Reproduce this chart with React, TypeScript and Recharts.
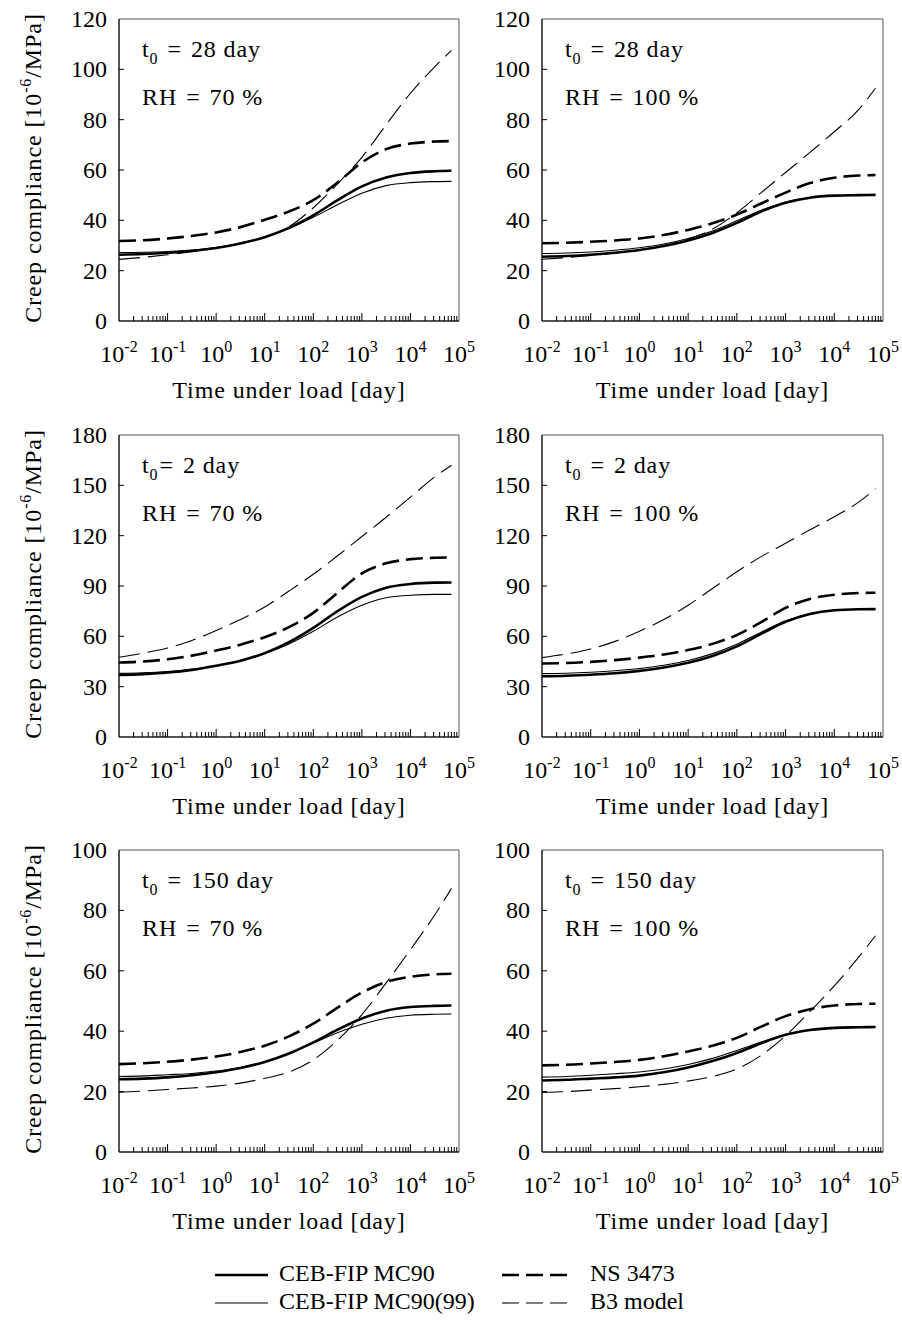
import React from 'react';
import { LineChart, Line, XAxis, YAxis, ReferenceArea } from 'recharts';

const FONT = 'Liberation Serif, DejaVu Serif, Noto Serif, Times, serif';

// time under load [day]
const times = [0.01, 0.0316, 0.1, 0.316, 1, 3.16, 10, 31.6, 100, 316, 1000, 3162, 10000, 31623, 70000];

// t0 = 28 day, RH = 70 %
const mc90_28_70 = [26.3, 26.6, 27.1, 27.8, 29, 30.8, 33.3, 37, 42, 48, 53.5, 57, 58.8, 59.5, 59.7];
const mc99_28_70 = [27.2, 27.3, 27.6, 28.2, 29.2, 30.9, 33.3, 36.8, 41.2, 46.2, 50.8, 53.8, 55, 55.4, 55.5];
const ns_28_70 = [31.8, 32.1, 32.8, 33.8, 35.2, 37.3, 40.2, 43.5, 48, 55, 63, 68.3, 70.5, 71.3, 71.5];
const b3_28_70 = [24.5, 25.3, 26.3, 27.5, 29, 31, 33.5, 37.5, 45, 54.5, 65, 78, 90.5, 101, 107.5];

// t0 = 28 day, RH = 100 %
const mc90_28_100 = [25.5, 25.8, 26.3, 27.1, 28.2, 29.8, 32, 35, 39, 43.5, 47, 49, 49.8, 50, 50.1];
const mc99_28_100 = [26.8, 27, 27.4, 28.1, 29.1, 30.6, 32.8, 35.8, 39.8, 44, 47.3, 49.1, 49.8, 50, 50.1];
const ns_28_100 = [30.9, 31.1, 31.5, 32, 32.8, 34.2, 36.2, 38.8, 42.3, 46.7, 51, 54.8, 56.9, 57.8, 58];
const b3_28_100 = [24.5, 25.2, 26, 27, 28.3, 30, 32.5, 36.5, 43, 51, 59, 67, 75.2, 84, 92.5];

// t0 = 2 day, RH = 70 %
const mc90_2_70 = [37, 37.5, 38.4, 40, 42.5, 45.5, 50, 56.5, 65, 75, 83.5, 89, 91.2, 92, 92.1];
const mc99_2_70 = [38, 38.3, 39, 40.3, 42.5, 45.3, 49.7, 55.5, 63, 71.5, 78.5, 83, 84.5, 85, 85];
const ns_2_70 = [44.4, 45, 46.3, 48.5, 51.5, 55, 59.5, 65.5, 74, 86, 97.5, 103.5, 106, 106.8, 107];
const b3_2_70 = [47.5, 50, 53, 57.5, 63.5, 70, 77.5, 87, 97, 108, 119.5, 131, 143, 155, 162];

// t0 = 2 day, RH = 100 %
const mc90_2_100 = [36.2, 36.5, 37.1, 38, 39.4, 41.4, 44.2, 48.3, 54, 61.5, 68.6, 73.3, 75.5, 76.1, 76.2];
const mc99_2_100 = [37.8, 38, 38.6, 39.5, 40.8, 42.8, 45.6, 49.7, 55.3, 62.5, 69.3, 73.5, 75.5, 76.1, 76.2];
const ns_2_100 = [43.8, 44.1, 44.8, 45.8, 47.3, 49.2, 51.8, 55.5, 60.8, 68.5, 77, 82.3, 84.8, 85.8, 86];
const b3_2_100 = [47.3, 49.5, 52.5, 57, 63, 70, 78.5, 88.5, 98.5, 107.5, 115.5, 123.5, 131.3, 140, 148];

// t0 = 150 day, RH = 70 %
const mc90_150_70 = [24.1, 24.3, 24.7, 25.4, 26.4, 27.8, 29.8, 32.6, 36.3, 40.5, 44.2, 46.8, 48, 48.4, 48.5];
const mc99_150_70 = [25, 25.2, 25.6, 26, 26.8, 28, 29.9, 32.6, 36.1, 39.5, 42.3, 44.3, 45.3, 45.6, 45.7];
const ns_150_70 = [29.1, 29.4, 29.9, 30.6, 31.6, 33.1, 35.2, 38.3, 42.5, 47.8, 52.8, 56.3, 58, 58.8, 59];
const b3_150_70 = [19.8, 20.2, 20.7, 21.2, 21.8, 22.8, 24.4, 26.5, 30.5, 37, 45.5, 56, 67, 78.5, 87.3];

// t0 = 150 day, RH = 100 %
const mc90_150_100 = [23.7, 23.9, 24.3, 24.7, 25.3, 26.4, 28, 30.1, 32.8, 36, 38.8, 40.4, 41.1, 41.3, 41.4];
const mc99_150_100 = [24.8, 25, 25.4, 25.9, 26.5, 27.5, 29, 31, 33.6, 36.4, 38.9, 40.4, 41.1, 41.3, 41.4];
const ns_150_100 = [28.7, 28.9, 29.3, 29.8, 30.5, 31.7, 33.3, 35.2, 37.8, 41.5, 45, 47.3, 48.5, 49, 49.1];
const b3_150_100 = [19.7, 20, 20.5, 21, 21.6, 22.4, 23.5, 25, 27.5, 32, 38.5, 46.5, 55, 64.5, 71.6];

// axis ticks
const yTicks120 = [0, 20, 40, 60, 80, 100, 120];
const yTicks180 = [0, 30, 60, 90, 120, 150, 180];
const yTicks100 = [0, 20, 40, 60, 80, 100];
const xDecades = [-2, -1, 0, 1, 2, 3, 4, 5];
const xMinorMult = [2, 3, 4, 5, 6, 7, 8, 9];

const xTicks: number[] = [];
xDecades.forEach((k) => {
  xTicks.push(Math.pow(10, k));
  if (k < 5) xMinorMult.forEach((m) => xTicks.push(m * Math.pow(10, k)));
});

const legendItems = [
  { name: 'CEB-FIP MC90', width: 2.6, dash: undefined },
  { name: 'CEB-FIP MC90(99)', width: 1.1, dash: undefined },
  { name: 'NS 3473', width: 2.6, dash: '17 7' },
  { name: 'B3 model', width: 1.1, dash: '17 7' },
];

type Panel = {
  t0: string;
  eqGap: boolean;
  rh: string;
  yMax: number;
  yTicks: number[];
  mc90: number[];
  mc99: number[];
  ns: number[];
  b3: number[];
  row: number;
  col: number;
};

const panels: Panel[] = [
  { t0: '28', eqGap: true, rh: '70', yMax: 120, yTicks: yTicks120, mc90: mc90_28_70, mc99: mc99_28_70, ns: ns_28_70, b3: b3_28_70, row: 0, col: 0 },
  { t0: '28', eqGap: true, rh: '100', yMax: 120, yTicks: yTicks120, mc90: mc90_28_100, mc99: mc99_28_100, ns: ns_28_100, b3: b3_28_100, row: 0, col: 1 },
  { t0: '2', eqGap: false, rh: '70', yMax: 180, yTicks: yTicks180, mc90: mc90_2_70, mc99: mc99_2_70, ns: ns_2_70, b3: b3_2_70, row: 1, col: 0 },
  { t0: '2', eqGap: true, rh: '100', yMax: 180, yTicks: yTicks180, mc90: mc90_2_100, mc99: mc99_2_100, ns: ns_2_100, b3: b3_2_100, row: 1, col: 1 },
  { t0: '150', eqGap: true, rh: '70', yMax: 100, yTicks: yTicks100, mc90: mc90_150_70, mc99: mc99_150_70, ns: ns_150_70, b3: b3_150_70, row: 2, col: 0 },
  { t0: '150', eqGap: true, rh: '100', yMax: 100, yTicks: yTicks100, mc90: mc90_150_100, mc99: mc99_150_100, ns: ns_150_100, b3: b3_150_100, row: 2, col: 1 },
];

const txt = { fontFamily: FONT, fontSize: 24, fill: '#000' } as React.CSSProperties;
const title = { ...txt, letterSpacing: 0.9 } as React.CSSProperties;

const XTick = (props: any) => {
  const { x, y, payload } = props;
  const v = payload.value as number;
  const lg = Math.log10(v);
  const major = Math.abs(lg - Math.round(lg)) < 1e-6;
  const len = major ? 8 : 5;
  const edge = v < 0.0100001 || v > 99999;
  return (
    <g>
      {!edge && <line x1={x} x2={x} y1={y} y2={y - len} stroke="#000" strokeWidth={1} />}
      {major && (
        <text x={x} y={y + 41} textAnchor="middle" style={txt}>
          <tspan>10</tspan>
          <tspan dy={-10} style={{ fontSize: 16 }}>{String(Math.round(lg))}</tspan>
        </text>
      )}
    </g>
  );
};

const makeYTick = (yMax: number) => (props: any) => {
  const { x, y, payload } = props;
  const v = payload.value as number;
  return (
    <g>
      {v > 0 && v < yMax && <line x1={x} x2={x + 5} y1={y} y2={y} stroke="#000" strokeWidth={1} />}
      <text x={x - 12} y={y + 8} textAnchor="end" style={txt}>
        {v}
      </text>
    </g>
  );
};

const ChartPanel = ({ p }: { p: Panel }) => {
  const left = p.col === 0 ? 0 : 460;
  const width = p.col === 0 ? 500 : 442;
  const yAxisWidth = p.col === 0 ? 119 : 82;
  const marginRight = p.col === 0 ? 41 : 19;
  const top = p.row * 415;
  const marginTop = p.row === 0 ? 19 : 20;
  const xAxisHeight = p.row === 0 ? 94 : 93;
  const data = times.map((t, i) => ({ t, mc90: p.mc90[i], mc99: p.mc99[i], ns: p.ns[i], b3: p.b3[i] }));

  const yLabel = (lp: any) => {
    const vb = lp.viewBox || {};
    const px = vb.x + vb.width;
    const py = vb.y;
    const cx = vb.x + 41;
    const cy = vb.y + vb.height / 2 - 2;
    return (
      <g>
        {p.col === 0 && (
          <text x={cx} y={cy} transform={`rotate(-90 ${cx} ${cy})`} textAnchor="middle" style={title}>
            <tspan>Creep compliance [10</tspan>
            <tspan dy={-10} style={{ fontSize: 16 }}>-6</tspan>
            <tspan dy={10}>/MPa]</tspan>
          </text>
        )}
        <text x={px + 23} y={py + 38} style={title}>
          <tspan>t</tspan>
          <tspan dy={7} style={{ fontSize: 16 }}>0</tspan>
          <tspan dy={-7} dx={p.eqGap ? 9 : 1}>=</tspan>
          <tspan dx={9}>{`${p.t0} day`}</tspan>
        </text>
        <text x={px + 23} y={py + 86} style={title}>
          <tspan>RH</tspan>
          <tspan dx={9}>=</tspan>
          <tspan dx={9}>{`${p.rh} %`}</tspan>
        </text>
      </g>
    );
  };

  const xLabel = (lp: any) => {
    const vb = lp.viewBox || {};
    return (
      <text x={vb.x + vb.width / 2} y={vb.y + 77} textAnchor="middle" style={title}>
        Time under load [day]
      </text>
    );
  };

  return (
    <div style={{ position: 'absolute', left, top, width, height: 415 }}>
      <LineChart width={width} height={415} data={data} margin={{ top: marginTop, right: marginRight, bottom: 0, left: 0 }}>
        <ReferenceArea x1={0.01} x2={100000} y1={0} y2={p.yMax} fill="none" fillOpacity={0} stroke="#555" strokeWidth={1} ifOverflow="visible" />
        <XAxis
          dataKey="t"
          type="number"
          scale="log"
          domain={[0.01, 100000]}
          ticks={xTicks}
          interval={0}
          allowDataOverflow
          height={xAxisHeight}
          tickSize={0}
          tickMargin={0}
          tickLine={false}
          axisLine={{ stroke: '#000', strokeWidth: 1 }}
          tick={(tp: any) => <XTick {...tp} />}
          label={xLabel}
        />
        <YAxis
          type="number"
          domain={[0, p.yMax]}
          ticks={p.yTicks}
          interval={0}
          width={yAxisWidth}
          tickSize={0}
          tickMargin={0}
          tickLine={false}
          axisLine={{ stroke: '#000', strokeWidth: 1 }}
          tick={makeYTick(p.yMax)}
          label={yLabel}
        />
        <Line type="monotone" dataKey="b3" stroke="#000" strokeWidth={1.1} strokeDasharray="21 8" dot={false} isAnimationActive={false} />
        <Line type="monotone" dataKey="ns" stroke="#000" strokeWidth={2.6} strokeDasharray="17 7" dot={false} isAnimationActive={false} />
        <Line type="monotone" dataKey="mc99" stroke="#000" strokeWidth={1.1} dot={false} isAnimationActive={false} />
        <Line type="monotone" dataKey="mc90" stroke="#000" strokeWidth={2.6} dot={false} isAnimationActive={false} />
      </LineChart>
    </div>
  );
};

const LegendBlock = () => {
  const rows = [30, 58];
  return (
    <svg style={{ position: 'absolute', left: 0, top: 1245 }} width={902} height={85}>
      {legendItems.map((it, i) => {
        const col = i < 2 ? 0 : 1;
        const row = i % 2;
        const ly = rows[row];
        const x1 = col === 0 ? 215 : 502;
        const x2 = col === 0 ? 268 : 568;
        const tx = col === 0 ? 279 : 590;
        return (
          <g key={it.name}>
            <line x1={x1} x2={x2} y1={ly} y2={ly} stroke="#000" strokeWidth={it.width} strokeDasharray={it.dash} />
            <text x={tx} y={ly + 6} style={txt}>{it.name}</text>
          </g>
        );
      })}
    </svg>
  );
};

export default function App() {
  return (
    <div style={{ position: 'absolute', left: 0, top: 0, width: 902, height: 1330, background: '#fff' }}>
      {panels.map((p, i) => (
        <ChartPanel key={i} p={p} />
      ))}
      <LegendBlock />
    </div>
  );
}
